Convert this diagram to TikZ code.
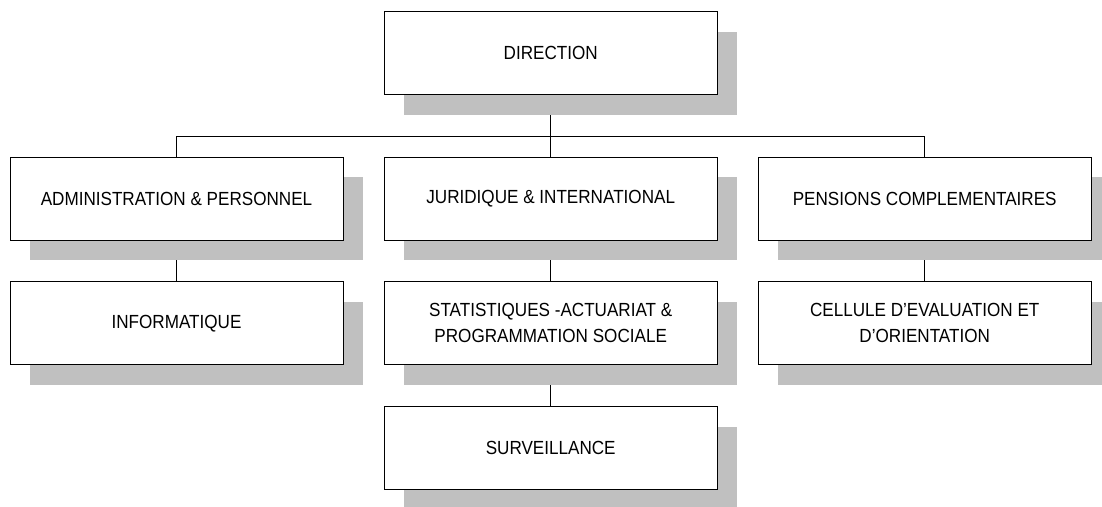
\documentclass[tikz,border=0pt]{standalone}
\usepackage{fontspec}
\setmainfont[FakeStretch=0.9]{Liberation Sans}
\usetikzlibrary{shadows,backgrounds}
\definecolor{shadowgray}{RGB}{192,192,192}
\begin{document}
\begin{tikzpicture}[x=1pt,y=-1pt,
  orgbox/.style={draw=black, line width=1pt, fill=white,
    minimum width=333pt, minimum height=83pt, inner sep=0pt,
    align=center, font=\fontsize{19}{26}\selectfont,
    drop shadow={shadow xshift=20pt, shadow yshift=-20pt, fill=shadowgray, opacity=1, draw=none}},
  link/.style={draw=black, line width=1pt}]
\useasboundingbox (0,0) rectangle (1102,506);
\clip (0,0) rectangle (1102,506);
\node[orgbox] (dir)   at (550.7,53.2)  {DIRECTION};
\node[orgbox] (admin) at (176.5,198.7) {ADMINISTRATION \& PERSONNEL};
\node[orgbox] (jur)   at (550.7,198.7) {JURIDIQUE \& INTERNATIONAL};
\node[orgbox] (pens)  at (924.7,198.7) {PENSIONS COMPLEMENTAIRES};
\node[orgbox] (info)  at (176.5,323.3) {INFORMATIQUE};
\node[orgbox] (stat)  at (550.7,323.3) {STATISTIQUES -ACTUARIAT \&\\PROGRAMMATION SOCIALE};
\node[orgbox] (cell)  at (924.7,323.3) {CELLULE D’EVALUATION ET\\D’ORIENTATION};
\node[orgbox] (surv)  at (550.7,448)   {SURVEILLANCE};
\coordinate (busL) at (176.5,136);
\coordinate (busR) at (924.7,136);
\begin{pgfonlayer}{background}
\draw[link] (dir.south) -- (dir.south |- busL);
\draw[link] (admin.north) -- (busL) -- (busR) -- (pens.north);
\draw[link] (jur.north) -- (jur.north |- busL);
\draw[link] (admin.south) -- (info.north);
\draw[link] (jur.south) -- (stat.north);
\draw[link] (stat.south) -- (surv.north);
\draw[link] (pens.south) -- (cell.north);
\end{pgfonlayer}
\end{tikzpicture}
\end{document}
